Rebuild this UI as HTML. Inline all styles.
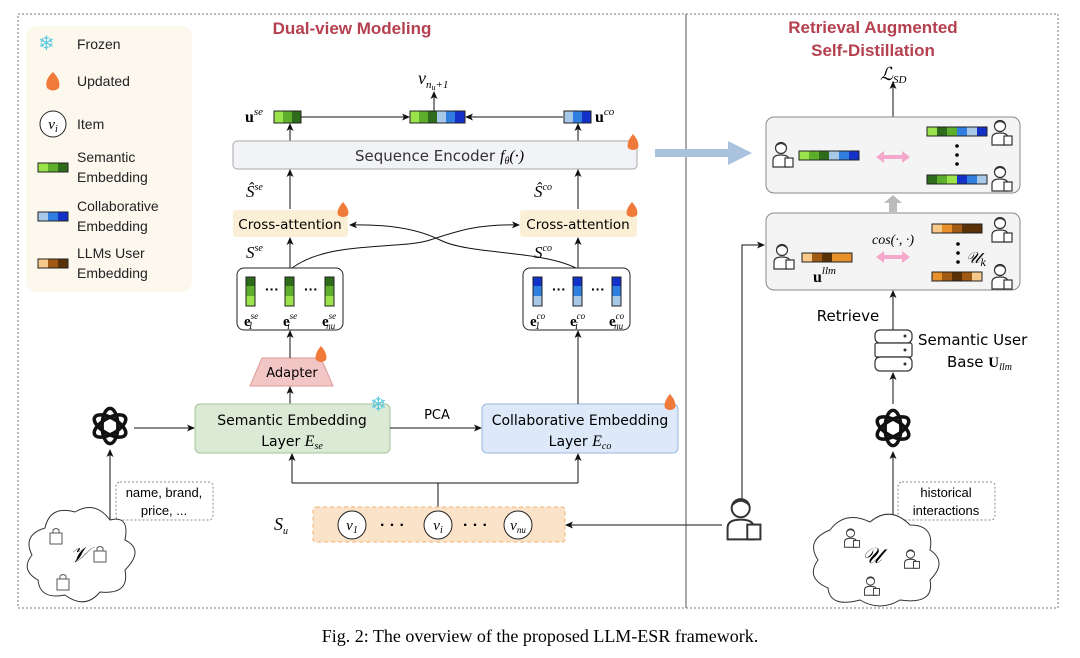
<!DOCTYPE html>
<html><head><meta charset="utf-8"><style>
html,body{margin:0;padding:0;background:#fff;}
svg{display:block;}
.m{font-family:"Liberation Serif",serif;font-style:italic;}
.c{font-family:"DejaVu Sans",sans-serif;}
.s{font-family:"Liberation Serif",serif;}
</style></head><body>
<svg width="1080" height="658" viewBox="0 0 1080 658" xmlns="http://www.w3.org/2000/svg" font-family="Liberation Sans, sans-serif">
<defs>
<marker id="ar" markerWidth="8" markerHeight="8" refX="7" refY="4" orient="auto" markerUnits="userSpaceOnUse"><path d="M0,0.5 L8,4 L0,7.5 L2,4z" fill="#111"/></marker>
<symbol id="per" viewBox="0 0 24 28"><circle cx="10" cy="8" r="5.5" fill="#fff" stroke="#333" stroke-width="1.2"/><path d="M5,6 Q10,1 15,6" fill="none" stroke="#333" stroke-width="1.2"/><path d="M2,27 L2,20 Q2,15 10,15 Q18,15 18,20 L18,27z" fill="#fff" stroke="#333" stroke-width="1.2"/><rect x="14" y="18" width="8" height="9" fill="#fff" stroke="#333" stroke-width="1.2"/></symbol>
<symbol id="bag" viewBox="0 0 14 18"><rect x="1" y="6" width="12" height="11" fill="#fff" stroke="#555" stroke-width="1"/><path d="M4,6 V3 Q7,0 10,3 V6" fill="none" stroke="#555"/></symbol>
<symbol id="ai" viewBox="0 0 50 50"><g fill="none" stroke="#111" stroke-width="4">
<ellipse cx="25" cy="25" rx="9" ry="20"/><ellipse cx="25" cy="25" rx="9" ry="20" transform="rotate(60 25 25)"/><ellipse cx="25" cy="25" rx="9" ry="20" transform="rotate(120 25 25)"/></g></symbol>
</defs>

<rect x="18" y="14" width="1040" height="594" fill="none" stroke="#777" stroke-dasharray="2,2"/>
<line x1="686" y1="14" x2="686" y2="608" stroke="#555"/>
<rect x="26" y="26" width="166" height="266" rx="10" fill="#fdf8ee"/>
<text x="38" y="50" font-size="20" fill="#5cc8e0">❄</text>
<text x="77" y="49" font-size="14" fill="#222">Frozen</text>
<path d="M53,72 Q44,80 47,88 Q53,93 59,88 Q61,80 53,72z" fill="#f07a3a"/>
<text x="77" y="86" font-size="14" fill="#222">Updated</text>
<circle cx="53" cy="124" r="13" fill="#fff" stroke="#222"/><text x="53" y="129" class="m" font-size="15" text-anchor="middle">v<tspan font-size="10" dy="3">i</tspan></text>
<text x="77" y="129" font-size="14" fill="#222">Item</text>
<g><rect x="38" y="163" width="10" height="9" fill="#9be34a"/><rect x="48" y="163" width="10" height="9" fill="#5dae2b"/><rect x="58" y="163" width="10" height="9" fill="#2e6b1a"/><rect x="38" y="163" width="30" height="9" fill="none" stroke="#222"/></g>
<text x="77" y="162" font-size="14" fill="#222">Semantic</text><text x="77" y="182" font-size="14" fill="#222">Embedding</text>
<g><rect x="38" y="212" width="10" height="9" fill="#a8c8e8"/><rect x="48" y="212" width="10" height="9" fill="#2f7ee0"/><rect x="58" y="212" width="10" height="9" fill="#1330c8"/><rect x="38" y="212" width="30" height="9" fill="none" stroke="#222"/></g>
<text x="77" y="211" font-size="14" fill="#222">Collaborative</text><text x="77" y="231" font-size="14" fill="#222">Embedding</text>
<g><rect x="38" y="259" width="10" height="9" fill="#f7c98a"/><rect x="48" y="259" width="10" height="9" fill="#a05a14"/><rect x="58" y="259" width="10" height="9" fill="#5a3008"/><rect x="38" y="259" width="30" height="9" fill="none" stroke="#222"/></g>
<text x="77" y="258" font-size="14" fill="#222">LLMs User</text><text x="77" y="278" font-size="14" fill="#222">Embedding</text>

<text x="352" y="34" font-size="17" font-weight="bold" fill="#b5404f" text-anchor="middle">Dual-view Modeling</text>
<text x="873" y="33" font-size="17" font-weight="bold" fill="#b5404f" text-anchor="middle">Retrieval Augmented</text>
<text x="873" y="56" font-size="17" font-weight="bold" fill="#b5404f" text-anchor="middle">Self-Distillation</text>

<text x="418" y="84" class="m" font-size="18">v<tspan font-size="11" dy="4">n</tspan><tspan font-size="8" dy="2">u</tspan><tspan font-size="11" dy="-2">+1</tspan></text>
<line x1="434" y1="117" x2="434" y2="92" stroke="#111" marker-end="url(#ar)"/>
<text x="245" y="122" class="s" font-weight="bold" font-size="16">u<tspan class="m" font-weight="normal" font-size="11" dy="-7">se</tspan></text>
<rect x="274" y="111" width="9" height="12" fill="#9be34a"/><rect x="283" y="111" width="9" height="12" fill="#5dae2b"/><rect x="292" y="111" width="9" height="12" fill="#2e6b1a"/><rect x="274" y="111" width="27" height="12" fill="none" stroke="#222"/>
<line x1="301" y1="117" x2="409" y2="117" stroke="#111" marker-end="url(#ar)"/>
<rect x="410" y="111" width="9" height="12" fill="#9be34a"/><rect x="419" y="111" width="9" height="12" fill="#5dae2b"/><rect x="428" y="111" width="9" height="12" fill="#2e6b1a"/><rect x="437" y="111" width="9" height="12" fill="#a8c8e8"/><rect x="446" y="111" width="9" height="12" fill="#2f7ee0"/><rect x="455" y="111" width="10" height="12" fill="#1330c8"/><rect x="410" y="111" width="55" height="12" fill="none" stroke="#222"/>
<line x1="563" y1="117" x2="466" y2="117" stroke="#111" marker-end="url(#ar)"/>
<rect x="564" y="111" width="9" height="12" fill="#a8c8e8"/><rect x="573" y="111" width="9" height="12" fill="#2f7ee0"/><rect x="582" y="111" width="9" height="12" fill="#1330c8"/><rect x="564" y="111" width="27" height="12" fill="none" stroke="#222"/>
<text x="595" y="122" class="s" font-weight="bold" font-size="16">u<tspan class="m" font-weight="normal" font-size="11" dy="-7">co</tspan></text>
<line x1="290" y1="141" x2="290" y2="124" stroke="#111" marker-end="url(#ar)"/>
<line x1="578" y1="141" x2="578" y2="124" stroke="#111" marker-end="url(#ar)"/>

<rect x="233" y="141" width="404" height="28" rx="4" fill="#f2f3f6" stroke="#aaa"/>
<text x="425" y="161" class="c" font-size="15" fill="#333" text-anchor="middle">Sequence Encoder</text>
<text x="500" y="161" class="m" font-size="16">f<tspan font-size="10" dy="3">θ</tspan><tspan dy="-3">(·)</tspan></text>
<path d="M633,134 Q626,142 628,148 Q633,152 638,148 Q640,142 633,134z" fill="#f07a3a"/>

<text x="246" y="197" class="m" font-size="17">Ŝ<tspan font-size="10" dy="-7">se</tspan></text>
<text x="534" y="197" class="m" font-size="17">Ŝ<tspan font-size="10" dy="-7">co</tspan></text>
<line x1="290" y1="209" x2="290" y2="170" stroke="#111" marker-end="url(#ar)"/>
<line x1="578" y1="209" x2="578" y2="170" stroke="#111" marker-end="url(#ar)"/>

<rect x="233" y="210" width="115" height="27" rx="3" fill="#fbefd5"/>
<text x="290" y="229" class="c" font-size="13.5" text-anchor="middle">Cross-attention</text>
<rect x="520" y="210" width="117" height="27" rx="3" fill="#fbefd5"/>
<text x="578" y="229" class="c" font-size="13.5" text-anchor="middle">Cross-attention</text>
<path d="M343,202 Q336,210 338,215 Q343,219 348,215 Q350,210 343,202z" fill="#f07a3a"/>
<path d="M632,202 Q625,210 627,215 Q632,219 637,215 Q639,210 632,202z" fill="#f07a3a"/>
<text x="246" y="258" class="m" font-size="17">S<tspan font-size="10" dy="-7">se</tspan></text>
<text x="534" y="258" class="m" font-size="17">S<tspan font-size="10" dy="-7">co</tspan></text>
<line x1="290" y1="268" x2="290" y2="238" stroke="#111" marker-end="url(#ar)"/>
<line x1="578" y1="268" x2="578" y2="238" stroke="#111" marker-end="url(#ar)"/>
<path d="M292,268 C330,240 400,250 430,240 C460,230 480,224 519,225" fill="none" stroke="#111" marker-end="url(#ar)"/>
<path d="M576,268 C540,250 470,255 440,240 C420,230 390,224 350,225" fill="none" stroke="#111" marker-end="url(#ar)"/>

<rect x="237" y="268" width="106" height="62" rx="7" fill="#fff" stroke="#222"/>
<g>
<rect x="246" y="277" width="9" height="9" fill="#2e6b1a"/><rect x="246" y="286" width="9" height="10" fill="#5dae2b"/><rect x="246" y="296" width="9" height="10" fill="#9be34a"/><rect x="246" y="277" width="9" height="29" fill="none" stroke="#222"/>
<rect x="285" y="277" width="9" height="9" fill="#2e6b1a"/><rect x="285" y="286" width="9" height="10" fill="#5dae2b"/><rect x="285" y="296" width="9" height="10" fill="#9be34a"/><rect x="285" y="277" width="9" height="29" fill="none" stroke="#222"/>
<rect x="325" y="277" width="9" height="9" fill="#2e6b1a"/><rect x="325" y="286" width="9" height="10" fill="#5dae2b"/><rect x="325" y="296" width="9" height="10" fill="#9be34a"/><rect x="325" y="277" width="9" height="29" fill="none" stroke="#222"/>
</g>
<text x="265" y="294" font-size="14" font-weight="bold">···</text><text x="304" y="294" font-size="14" font-weight="bold">···</text>
<text x="244" y="326" class="s" font-weight="bold" font-size="15">e<tspan class="m" font-weight="normal" font-size="9" dy="-7">se</tspan><tspan class="m" font-weight="normal" font-size="10" dx="-10" dy="10">1</tspan></text>
<text x="283" y="326" class="s" font-weight="bold" font-size="15">e<tspan class="m" font-weight="normal" font-size="9" dy="-7">se</tspan><tspan class="m" font-weight="normal" font-size="10" dx="-10" dy="10">i</tspan></text>
<text x="322" y="326" class="s" font-weight="bold" font-size="15">e<tspan class="m" font-weight="normal" font-size="9" dy="-7">se</tspan><tspan class="m" font-weight="normal" font-size="9" dx="-10" dy="10">nu</tspan></text>

<rect x="523" y="268" width="107" height="62" rx="7" fill="#fff" stroke="#222"/>
<g>
<rect x="533" y="277" width="9" height="9" fill="#1330c8"/><rect x="533" y="286" width="9" height="10" fill="#2f7ee0"/><rect x="533" y="296" width="9" height="10" fill="#a8c8e8"/><rect x="533" y="277" width="9" height="29" fill="none" stroke="#222"/>
<rect x="573" y="277" width="9" height="9" fill="#1330c8"/><rect x="573" y="286" width="9" height="10" fill="#2f7ee0"/><rect x="573" y="296" width="9" height="10" fill="#a8c8e8"/><rect x="573" y="277" width="9" height="29" fill="none" stroke="#222"/>
<rect x="612" y="277" width="9" height="9" fill="#1330c8"/><rect x="612" y="286" width="9" height="10" fill="#2f7ee0"/><rect x="612" y="296" width="9" height="10" fill="#a8c8e8"/><rect x="612" y="277" width="9" height="29" fill="none" stroke="#222"/>
</g>
<text x="552" y="294" font-size="14" font-weight="bold">···</text><text x="591" y="294" font-size="14" font-weight="bold">···</text>
<text x="530" y="326" class="s" font-weight="bold" font-size="15">e<tspan class="m" font-weight="normal" font-size="9" dy="-7">co</tspan><tspan class="m" font-weight="normal" font-size="10" dx="-10" dy="10">1</tspan></text>
<text x="570" y="326" class="s" font-weight="bold" font-size="15">e<tspan class="m" font-weight="normal" font-size="9" dy="-7">co</tspan><tspan class="m" font-weight="normal" font-size="10" dx="-10" dy="10">i</tspan></text>
<text x="609" y="326" class="s" font-weight="bold" font-size="15">e<tspan class="m" font-weight="normal" font-size="9" dy="-7">co</tspan><tspan class="m" font-weight="normal" font-size="9" dx="-10" dy="10">nu</tspan></text>

<path d="M262,358 L321,358 L333,386 L250,386z" fill="#f2c6c4" stroke="#d99"/>
<text x="292" y="377" class="c" font-size="13" text-anchor="middle">Adapter</text>
<path d="M321,346 Q314,354 316,360 Q321,364 326,360 Q328,354 321,346z" fill="#f07a3a"/>
<line x1="290" y1="358" x2="290" y2="331" stroke="#111" marker-end="url(#ar)"/>
<line x1="290" y1="404" x2="290" y2="387" stroke="#111" marker-end="url(#ar)"/>

<rect x="195" y="404" width="195" height="49" rx="5" fill="#dbead5" stroke="#a3c49b"/>
<text x="292" y="425" class="c" font-size="14" text-anchor="middle">Semantic Embedding</text>
<text x="292" y="446" class="c" font-size="14" text-anchor="middle">Layer <tspan class="m" font-size="16">E</tspan><tspan class="m" font-size="10" dy="3">se</tspan></text>
<text x="370" y="411" font-size="20" fill="#5cc8e0">❄</text>
<text x="437" y="419" class="c" font-size="13" text-anchor="middle">PCA</text>
<line x1="390" y1="428" x2="481" y2="428" stroke="#111" marker-end="url(#ar)"/>
<rect x="482" y="404" width="196" height="49" rx="5" fill="#dde9f8" stroke="#9ab6da"/>
<text x="580" y="425" class="c" font-size="14" text-anchor="middle">Collaborative Embedding</text>
<text x="580" y="446" class="c" font-size="14" text-anchor="middle">Layer <tspan class="m" font-size="16">E</tspan><tspan class="m" font-size="10" dy="3">co</tspan></text>
<path d="M670,394 Q663,402 665,408 Q670,412 675,408 Q677,402 670,394z" fill="#f07a3a"/>
<line x1="578" y1="404" x2="578" y2="331" stroke="#111" marker-end="url(#ar)"/>
<path d="M438,507 V483 M292,483 H578" fill="none" stroke="#111"/>
<line x1="292" y1="483" x2="292" y2="454" stroke="#111" marker-end="url(#ar)"/>
<line x1="578" y1="483" x2="578" y2="454" stroke="#111" marker-end="url(#ar)"/>

<text x="274" y="530" class="m" font-size="18">S<tspan font-size="10" dy="4">u</tspan></text>
<rect x="313" y="507" width="252" height="35" rx="3" fill="#fbe3c9" stroke="#f0b070" stroke-dasharray="4,3"/>
<circle cx="352" cy="525" r="14" fill="#fff" stroke="#222"/><text x="352" y="530" class="m" font-size="15" text-anchor="middle">v<tspan font-size="10" dy="3">1</tspan></text>
<circle cx="438" cy="525" r="14" fill="#fff" stroke="#222"/><text x="438" y="530" class="m" font-size="15" text-anchor="middle">v<tspan font-size="10" dy="3">i</tspan></text>
<circle cx="518" cy="525" r="14" fill="#fff" stroke="#222"/><text x="518" y="530" class="m" font-size="15" text-anchor="middle">v<tspan font-size="9" dy="3">nu</tspan></text>
<text x="380" y="530" font-size="16" font-weight="bold">· · ·</text><text x="463" y="530" font-size="16" font-weight="bold">· · ·</text>
<line x1="722" y1="525" x2="566" y2="525" stroke="#111" marker-end="url(#ar)"/>

<use href="#ai" x="88" y="404" width="44" height="44"/>
<line x1="134" y1="428" x2="194" y2="428" stroke="#111" marker-end="url(#ar)"/>
<line x1="110" y1="530" x2="110" y2="450" stroke="#111" marker-end="url(#ar)"/>
<rect x="116" y="482" width="97" height="38" rx="4" fill="#fff" stroke="#888" stroke-dasharray="2,2"/>
<text x="164" y="497" font-size="13" text-anchor="middle">name, brand,</text>
<text x="164" y="515" font-size="13" text-anchor="middle">price, ...</text>
<path d="M45,528 Q50,505 75,512 Q95,500 110,520 Q130,515 125,540 Q145,550 125,570 Q130,595 100,592 Q85,610 65,595 Q40,600 38,580 Q20,570 32,555 Q22,535 45,528z" fill="#fff" stroke="#333"/>
<text x="70" y="562" font-family="DejaVu Serif" font-style="italic" font-size="22">𝒱</text>
<use href="#bag" x="49" y="527" width="14" height="18"/><use href="#bag" x="93" y="545" width="14" height="18"/><use href="#bag" x="56" y="573" width="14" height="18"/>

<path d="M655,149 L728,149 L728,141 L752,153 L728,165 L728,157 L655,157z" fill="#a9c3de"/>

<text x="880" y="80" class="m" font-size="18">ℒ<tspan font-size="11" dy="3">SD</tspan></text>
<line x1="893" y1="152" x2="893" y2="82" stroke="#111" marker-end="url(#ar)"/>
<rect x="766" y="117" width="254" height="76" rx="8" fill="#f4f4f4" stroke="#888"/>
<use href="#per" x="771" y="140" width="24" height="28"/>
<g><rect x="799" y="151" width="10" height="9" fill="#9be34a"/><rect x="809" y="151" width="10" height="9" fill="#5dae2b"/><rect x="819" y="151" width="10" height="9" fill="#2e6b1a"/><rect x="829" y="151" width="10" height="9" fill="#a8c8e8"/><rect x="839" y="151" width="10" height="9" fill="#2f7ee0"/><rect x="849" y="151" width="10" height="9" fill="#1330c8"/><rect x="799" y="151" width="60" height="9" fill="none" stroke="#222"/></g>
<path d="M876,157 L884,151 L884,155 L902,155 L902,151 L910,157 L902,163 L902,159 L884,159 L884,163z" fill="#f4a8cc"/>
<g><rect x="927" y="127" width="10" height="9" fill="#9be34a"/><rect x="937" y="127" width="10" height="9" fill="#2e6b1a"/><rect x="947" y="127" width="10" height="9" fill="#5dae2b"/><rect x="957" y="127" width="10" height="9" fill="#2f7ee0"/><rect x="967" y="127" width="10" height="9" fill="#a8c8e8"/><rect x="977" y="127" width="10" height="9" fill="#1330c8"/><rect x="927" y="127" width="60" height="9" fill="none" stroke="#222"/></g>
<g><rect x="927" y="175" width="10" height="9" fill="#2e6b1a"/><rect x="937" y="175" width="10" height="9" fill="#5dae2b"/><rect x="947" y="175" width="10" height="9" fill="#9be34a"/><rect x="957" y="175" width="10" height="9" fill="#1330c8"/><rect x="967" y="175" width="10" height="9" fill="#2f7ee0"/><rect x="977" y="175" width="10" height="9" fill="#a8c8e8"/><rect x="927" y="175" width="60" height="9" fill="none" stroke="#222"/></g>
<circle cx="957" cy="146" r="1.8"/><circle cx="957" cy="155" r="1.8"/><circle cx="957" cy="164" r="1.8"/>
<use href="#per" x="990" y="118" width="24" height="28"/><use href="#per" x="990" y="164" width="24" height="28"/>
<path d="M889,212 L889,203 L884,203 L893,195 L902,203 L897,203 L897,212z" fill="#bbb"/>

<rect x="766" y="213" width="254" height="77" rx="8" fill="#f4f4f4" stroke="#888"/>
<use href="#per" x="772" y="242" width="24" height="28"/>
<g><rect x="802" y="253" width="10" height="9" fill="#f7c98a"/><rect x="812" y="253" width="10" height="9" fill="#a05a14"/><rect x="822" y="253" width="10" height="9" fill="#5a3008"/><rect x="832" y="253" width="10" height="9" fill="#e8902a"/><rect x="842" y="253" width="10" height="9" fill="#e8902a"/><rect x="802" y="253" width="50" height="9" fill="none" stroke="#222"/></g>
<text x="813" y="282" class="s" font-weight="bold" font-size="16">u<tspan class="m" font-weight="normal" font-size="11" dy="-8">llm</tspan></text>
<text x="893" y="244" class="m" font-size="14" text-anchor="middle">cos(·, ·)</text>
<path d="M876,257 L884,251 L884,255 L902,255 L902,251 L910,257 L902,263 L902,259 L884,259 L884,263z" fill="#f4a8cc"/>
<g><rect x="932" y="224" width="10" height="9" fill="#f7c98a"/><rect x="942" y="224" width="10" height="9" fill="#e8902a"/><rect x="952" y="224" width="10" height="9" fill="#a05a14"/><rect x="962" y="224" width="10" height="9" fill="#5a3008"/><rect x="972" y="224" width="10" height="9" fill="#5a3008"/><rect x="932" y="224" width="50" height="9" fill="none" stroke="#222"/></g>
<g><rect x="932" y="272" width="10" height="9" fill="#e8902a"/><rect x="942" y="272" width="10" height="9" fill="#a05a14"/><rect x="952" y="272" width="10" height="9" fill="#5a3008"/><rect x="962" y="272" width="10" height="9" fill="#a05a14"/><rect x="972" y="272" width="10" height="9" fill="#f7c98a"/><rect x="932" y="272" width="50" height="9" fill="none" stroke="#222"/></g>
<circle cx="958" cy="244" r="1.8"/><circle cx="958" cy="253" r="1.8"/><circle cx="958" cy="262" r="1.8"/>
<text x="966" y="263" font-family="DejaVu Serif" font-style="italic" font-size="16">𝒰<tspan font-size="10" dy="3">k</tspan></text>
<use href="#per" x="990" y="215" width="24" height="28"/><use href="#per" x="990" y="262" width="24" height="28"/>
<path d="M742,500 V245 H764" fill="none" stroke="#111" marker-end="url(#ar)"/>
<use href="#per" x="724" y="495" width="40" height="46"/>

<text x="848" y="321" class="c" font-size="15" text-anchor="middle">Retrieve</text>
<line x1="893" y1="330" x2="893" y2="291" stroke="#111" marker-end="url(#ar)"/>
<g fill="#fff" stroke="#333" stroke-width="1.2"><rect x="875" y="330" width="37" height="13" rx="5"/><rect x="875" y="343" width="37" height="14" rx="2"/><rect x="875" y="357" width="37" height="14" rx="5"/></g>
<g fill="#333"><circle cx="905" cy="336" r="1.5"/><circle cx="905" cy="350" r="1.5"/><circle cx="905" cy="364" r="1.5"/></g>
<text x="918" y="345" class="c" font-size="15">Semantic User</text>
<text x="947" y="367" class="c" font-size="15">Base <tspan class="s" font-weight="bold">U</tspan><tspan class="m" font-size="10" dy="3">llm</tspan></text>
<line x1="893" y1="404" x2="893" y2="373" stroke="#111" marker-end="url(#ar)"/>
<use href="#ai" x="871" y="406" width="44" height="44"/>
<line x1="893" y1="540" x2="893" y2="452" stroke="#111" marker-end="url(#ar)"/>
<rect x="898" y="482" width="97" height="38" rx="4" fill="#fff" stroke="#888" stroke-dasharray="2,2"/>
<text x="946" y="497" font-size="13" text-anchor="middle">historical</text>
<text x="946" y="515" font-size="13" text-anchor="middle">interactions</text>
<path d="M830,530 Q845,510 870,522 Q890,505 910,525 Q935,525 930,550 Q948,562 930,580 Q935,605 900,600 Q880,612 860,600 Q830,608 828,588 Q805,578 818,560 Q805,540 830,530z" fill="#fff" stroke="#333"/>
<text x="862" y="563" font-family="DejaVu Serif" font-style="italic" font-size="22">𝒰</text>
<use href="#per" x="843" y="527" width="18" height="21"/><use href="#per" x="903" y="548" width="18" height="21"/><use href="#per" x="863" y="575" width="18" height="21"/>

<text x="540" y="642" class="s" font-size="18" text-anchor="middle">Fig. 2: The overview of the proposed LLM-ESR framework.</text>
</svg>
</body></html>
